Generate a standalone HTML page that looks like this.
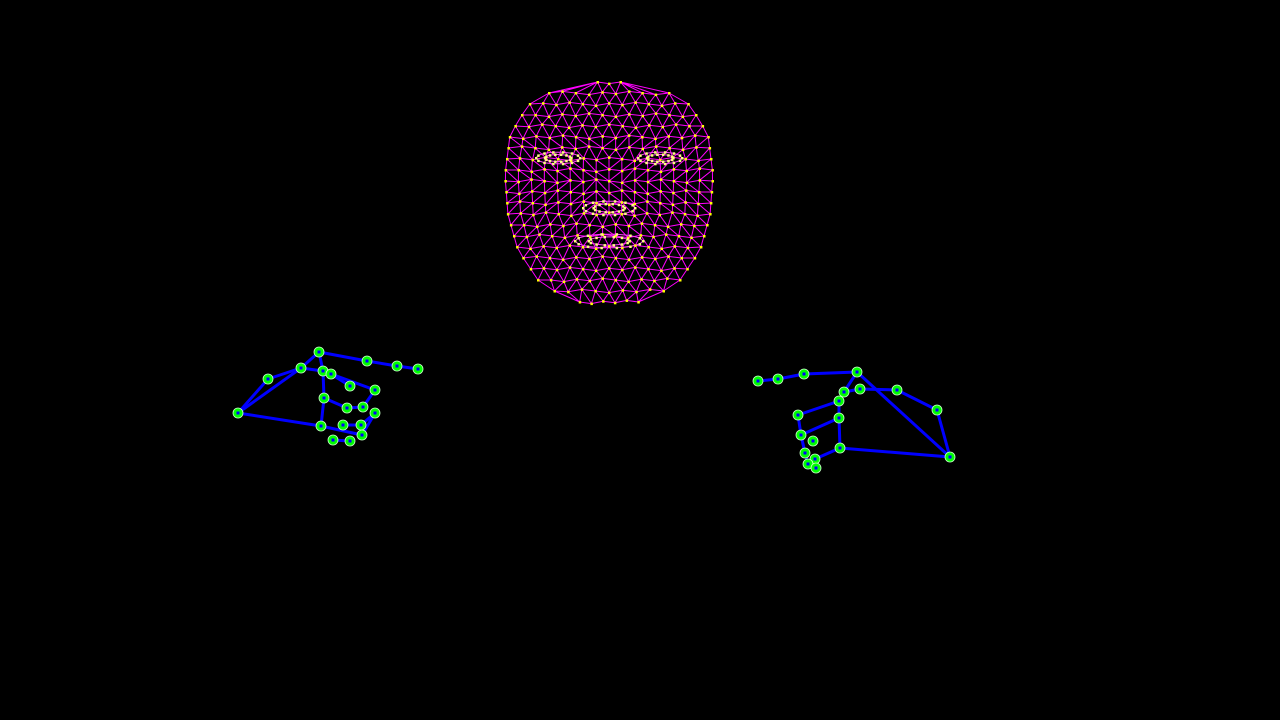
<!DOCTYPE html>
<html><head><meta charset="utf-8"><style>
html,body{margin:0;padding:0;background:#000;width:1280px;height:720px;overflow:hidden}
svg{display:block}
</style></head><body>
<svg id="s" width="1280" height="720" viewBox="0 0 1280 720">
<rect width="1280" height="720" fill="#000"/>
<g id="face"></g>
<g id="hands"></g>
</svg>
<script>
const NS='http://www.w3.org/2000/svg';
const leftHandX=[238,268,301,319,367,397,418,323,331,350,375,324,347,363,375,321,343,361,362,333,350];
const leftHandY=[413,379,368,352,361,366,369,371,374,386,390,398,408,407,413,426,425,425,435,440,441];
const leftEdges=[[0,1],[1,2],[2,3],[3,4],[4,5],[5,6],[0,2],[2,7],[7,11],[11,15],[0,15],[7,8],[8,9],[8,10],[10,13],[13,12],[12,11],[14,17],[17,16],[15,18],[18,14],[19,20],[3,7]];
const rightHandX=[950,758,778,804,857,844,860,897,937,839,798,839,801,813,840,805,815,808,816];
const rightHandY=[457,381,379,374,372,392,389,390,410,401,415,418,435,441,448,453,459,464,468];
const rightEdges=[[1,2],[2,3],[3,4],[4,5],[5,9],[9,10],[10,12],[4,0],[5,6],[6,7],[7,8],[8,0],[9,11],[11,12],[11,14],[14,0],[14,16],[12,15],[15,17],[16,18]];
// face outline half-widths by y
const outlineX=[0,46,81,99,104,101,91,71,41,0];
const outlineY=[81,85,105,135,175,215,250,280,300,307];

function el(t,a,p,name){const e=document.createElementNS(NS,t);for(const k in a)e.setAttribute(k,a[k]);


p.appendChild(e);return e;}

const face=document.getElementById('face');
const cx=609;
function halfW(y){for(let i=0;i<outlineY.length-1;i++){if(y>=outlineY[i]&&y<=outlineY[i+1]){const f=(y-outlineY[i])/(outlineY[i+1]-outlineY[i]);return outlineX[i]+(outlineX[i+1]-outlineX[i])*f;}}return 0;}
const rows=[];
const step=11;
for(let y=82;y<=306;y+=step){const w=halfW(y);const n=Math.max(2,Math.round(2*w/13));const row=[];for(let k=0;k<=n;k++){const x=cx-w+2*w*k/n;const jy=((k*7+Math.round(y))%5-2)*0.8;row.push([x,y+(k===0||k===n?0:jy)]);}rows.push(row);}
let d='';
function L(a,b){d+=`M${a[0].toFixed(1)},${a[1].toFixed(1)}L${b[0].toFixed(1)},${b[1].toFixed(1)}`;}
for(let r=0;r<rows.length;r++){const A=rows[r];for(let k=0;k<A.length-1;k++)L(A[k],A[k+1]);
if(r<rows.length-1){const B=rows[r+1];let i=0,j=0;L(A[0],B[0]);while(i<A.length-1||j<B.length-1){if(j>=B.length-1||(i<A.length-1&&A[i+1][0]<B[j+1][0])){i++;}else{j++;}L(A[i],B[j]);}}}
el('path',{d:d,stroke:'#ff00ff','stroke-width':1,fill:'none'},face,'face-mesh-edges');
const featX=[558,660,609,609];
const featY=[158,158,208,241];
const featRX=[22,22,26,34];
const featRY=[6,6,7,7];
let fd='';const featPts=[];
for(let f=0;f<featX.length;f++){for(let ring=0;ring<2;ring++){const n=14;const s=1-ring*0.4;for(let k=0;k<n;k++){const t=k/n*Math.PI*2,t2=(k+1)/n*Math.PI*2;const x=featX[f]+featRX[f]*s*Math.cos(t),y=featY[f]+featRY[f]*s*Math.sin(t);featPts.push([x,y]);fd+=`M${x.toFixed(1)},${y.toFixed(1)}L${(featX[f]+featRX[f]*s*Math.cos(t2)).toFixed(1)},${(featY[f]+featRY[f]*s*Math.sin(t2)).toFixed(1)}`;}}}
el('path',{d:fd,stroke:'#ff40ff','stroke-width':1,fill:'none'},face,'face-feature-edges');
[].concat(...rows).forEach(p=>{el('rect',{x:(p[0]-1).toFixed(1),y:(p[1]-1).toFixed(1),width:2.5,height:2.5,fill:'#ffff00'},face,'face-landmark');});
featPts.forEach(p=>{el('rect',{x:(p[0]-1).toFixed(1),y:(p[1]-1).toFixed(1),width:2.5,height:2.5,fill:'#ffff80'},face,'feature-landmark');});

const hands=document.getElementById('hands');
function drawHand(xs,ys,edges,name){const g=el('g',{},hands,name);
edges.forEach(e=>{el('line',{x1:xs[e[0]],y1:ys[e[0]],x2:xs[e[1]],y2:ys[e[1]],stroke:'#0000ff','stroke-width':3},g,'hand-connection');});
xs.forEach((x,i)=>{el('circle',{cx:x,cy:ys[i],r:5,fill:'#00ff00',stroke:'#c8ffc8','stroke-width':0.8},g,'hand-joint');
el('rect',{x:x-1.5,y:ys[i]-1.5,width:3,height:3,fill:'#0000ff'},g,'hand-joint-center');});}
drawHand(leftHandX,leftHandY,leftEdges,'left-hand');
drawHand(rightHandX,rightHandY,rightEdges,'right-hand');
</script>
</body></html>
